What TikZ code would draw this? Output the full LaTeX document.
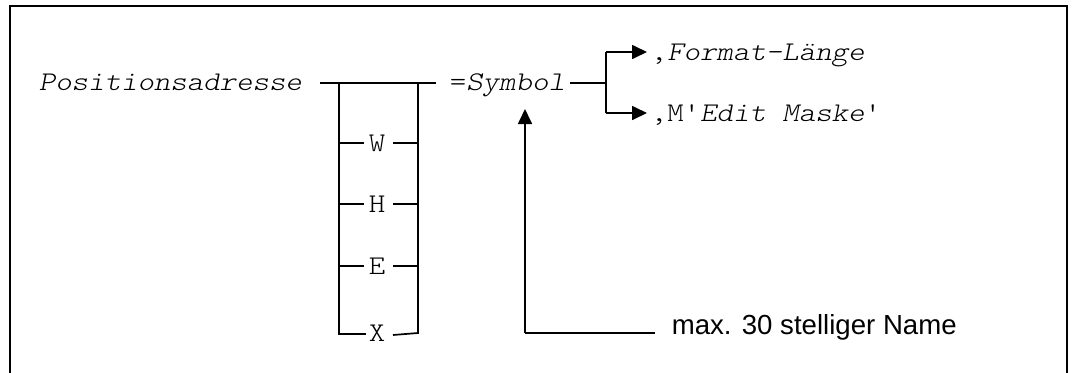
\documentclass[tikz,border=0pt]{standalone}
\usepackage{fontspec}
\setmainfont{Liberation Sans}
\newfontfamily\monofnt{lmmonolt10-regular.otf}[ItalicFont=lmmonolt10-oblique.otf,FakeStretch=1.16]
\usetikzlibrary{arrows.meta}
\begin{document}
\begin{tikzpicture}[x=1pt,y=-1pt,line width=1.7pt,
  mtext/.style={font=\monofnt\fontsize{27}{30}\selectfont,inner sep=0pt,anchor=base west},
  letter/.style={font=\monofnt\fontsize{27}{30}\selectfont,inner sep=0pt,anchor=base},
  stext/.style={font=\fontsize{27.6}{30}\selectfont,inner sep=0pt,anchor=base west},
  arr/.style={-{Triangle[length=15pt,width=14pt]}},
  frame/.style={line width=2.6pt}]
\useasboundingbox (0,0) rectangle (1073,372);
% frame (open at the bottom)
\draw[frame] (10,380) -- (10,6) -- (1067,6) -- (1067,380);
% texts
\node[mtext] (pos) at (38,90) {\itshape Positionsadresse};
\node[mtext] (sym) at (449,90) {=\itshape Symbol};
\node[mtext] (fmt) at (650,60) {,\itshape Format-Länge};
\node[mtext] (edit) at (650,121) {,M'{\itshape Edit Maske}'};
\node[stext] (name) at (671,334) {max. 30 stelliger Name};
% ladder letters
\node[letter] (W) at (377,151) {W};
\node[letter] (H) at (377,212) {H};
\node[letter] (E) at (377,274) {E};
\node[letter] (X) at (377,341) {X};
% ladder coordinates
\coordinate (t0) at (320,83);
\coordinate (t1) at (436,83);
\coordinate (lt) at (339,83);
\coordinate (rt) at (418,83);
\coordinate (lb) at (339,334);
\coordinate (rb) at (418,333);
% main line
\draw (t0) -- (t1);
\draw (lt) -- (lb) -- (366,334);
\draw (rt) -- (rb) -- (393,335);
% rows
\foreach \n/\y in {W/143,H/204,E/266}{
  \draw (339,\y) -- (364,\y);
  \draw (393,\y) -- (418,\y);
}
% symbol branches
\coordinate (sj) at (606,83);
\coordinate (sjt) at (606,52);
\coordinate (sjb) at (606,113);
\draw (570,83) -- (sj);
\draw (sj) -- (sjt);
\draw (sj) -- (sjb);
\draw[arr] (sjt) -- (647,52);
\draw[arr] (sjb) -- (647,113);
% name pointer
\coordinate (nc) at (525,333);
\draw (655,333) -- (nc);
\draw[arr] (nc) -- (525,109);
\end{tikzpicture}
\end{document}
